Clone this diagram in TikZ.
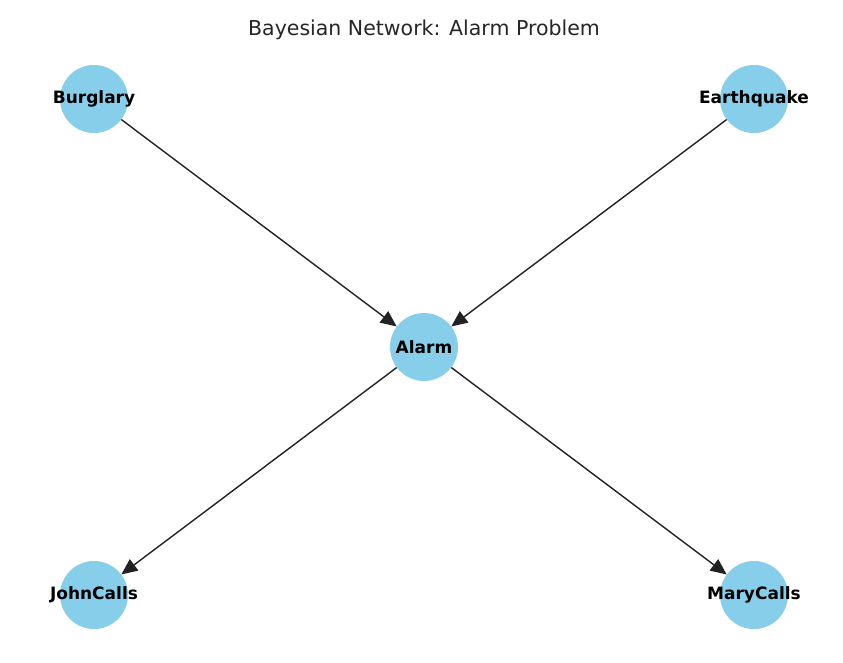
\documentclass[tikz,border=0pt]{standalone}
\usepackage{fontspec}
\setmainfont{DejaVu Sans}
\usetikzlibrary{arrows.meta}
\definecolor{skyblue}{HTML}{87CEEB}
\definecolor{edgec}{HTML}{222222}
\begin{document}
\begin{tikzpicture}[x=1pt,y=-1pt,
  bnode/.style={circle,fill=skyblue,minimum size=68pt,inner sep=0pt},
  blabel/.style={font=\fontsize{17}{19}\selectfont\bfseries,text=black},
  edge/.style={draw=edgec,line width=1.4pt,-{Triangle[length=16pt,width=14pt]}}]
\useasboundingbox (0,0) rectangle (843,662);
\node[font=\fontsize{20.5}{24}\selectfont,text=black!85] (title) at (424,30) {Bayesian Network: Alarm Problem};
\node[bnode] (B) at (94,99) {};
\node[bnode] (E) at (754,99) {};
\node[bnode] (A) at (424,347) {};
\node[bnode] (J) at (94,595) {};
\node[bnode] (M) at (754,595) {};
\path[edge] (B) -- (A);
\path[edge] (E) -- (A);
\path[edge] (A) -- (J);
\path[edge] (A) -- (M);
\node[blabel] (Bl) at (B) {Burglary};
\node[blabel] (El) at (E) {Earthquake};
\node[blabel] (Al) at (A) {Alarm};
\node[blabel] (Jl) at (J) {JohnCalls};
\node[blabel] (Ml) at (M) {MaryCalls};
\end{tikzpicture}
\end{document}
